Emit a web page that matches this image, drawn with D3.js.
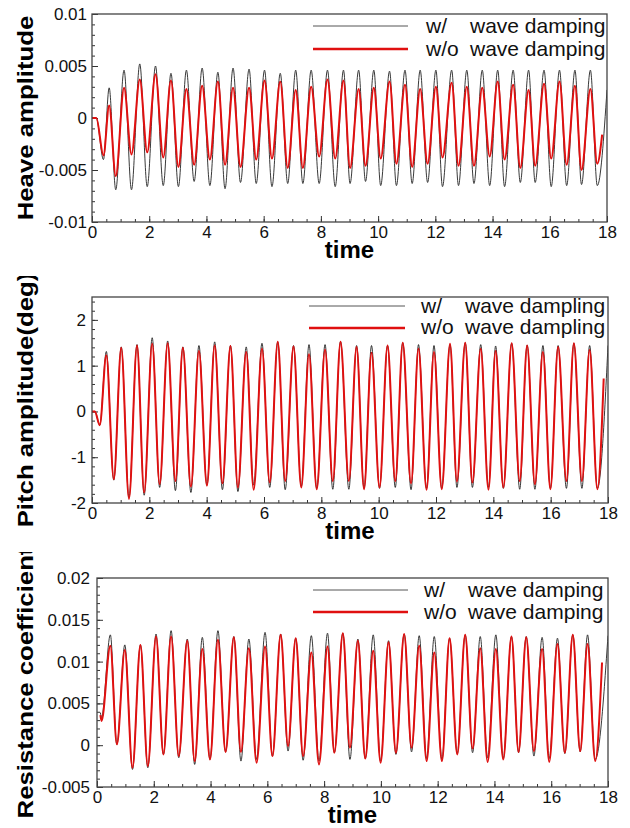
<!DOCTYPE html>
<html>
<head>
<meta charset="utf-8">
<script src="https://cdn.jsdelivr.net/npm/d3@7"></script>
<style>
  body { margin: 0; background: #fff; }
  svg { display: block; font-family: Arial, "Liberation Sans", sans-serif; }
</style>
</head>
<body>
<svg width="630" height="828"></svg>
<script>
// ---- data: times of peaks/troughs and the values there ----
const heaveTime = [0, 0.15, 0.4, 0.6, 0.83, 1.12, 1.38, 1.67, 1.93, 2.22, 2.49, 2.76, 3.02, 3.3, 3.57, 3.85, 4.12, 4.4, 4.65, 4.93,
  5.19, 5.49, 5.74, 6.03, 6.29, 6.58, 6.84, 7.12, 7.37, 7.66, 7.94, 8.23, 8.5, 8.79, 9.02, 9.32, 9.56, 9.85, 10.09, 10.4,
  10.64, 10.94, 11.19, 11.47, 11.73, 12.02, 12.25, 12.57, 12.81, 13.1, 13.35, 13.64, 13.9, 14.18, 14.42, 14.72, 14.97, 15.26, 15.49, 15.8,
  16.05, 16.34, 16.59, 16.88, 17.11, 17.42, 17.66];
const heaveWith = [0, 0, -0.004, 0.0029, -0.0069, 0.0046, -0.0069, 0.0052, -0.0066, 0.005, -0.0065, 0.0043, -0.0066, 0.0046, -0.0061, 0.0048, -0.0065, 0.0044, -0.0068, 0.0048,
  -0.0062, 0.0047, -0.0063, 0.0046, -0.0066, 0.0043, -0.0063, 0.0046, -0.0063, 0.0046, -0.0063, 0.0046, -0.0066, 0.0046, -0.0063, 0.0046, -0.0061, 0.0046, -0.0065, 0.0045,
  -0.0065, 0.0046, -0.0063, 0.0046, -0.0062, 0.0046, -0.0066, 0.0046, -0.0065, 0.0046, -0.0063, 0.0046, -0.0065, 0.0046, -0.0066, 0.0046, -0.0062, 0.0046, -0.0062, 0.0046,
  -0.0066, 0.0046, -0.0065, 0.0046, -0.0064, 0.0046, -0.0065];
const heaveWithout = [0, 0, -0.0036, 0.0012, -0.0056, 0.0029, -0.0035, 0.0037, -0.0033, 0.0042, -0.0038, 0.0036, -0.0047, 0.0028, -0.0045, 0.0031, -0.004, 0.0035, -0.0045, 0.0029,
  -0.0047, 0.0029, -0.004, 0.0036, -0.0039, 0.0035, -0.0048, 0.0027, -0.0048, 0.003, -0.0037, 0.0037, -0.0039, 0.0036, -0.0048, 0.0028, -0.0046, 0.0029, -0.0039, 0.0035,
  -0.0044, 0.0032, -0.0047, 0.0028, -0.0044, 0.003, -0.0038, 0.0034, -0.0046, 0.003, -0.0046, 0.0029, -0.0037, 0.0035, -0.004, 0.0032, -0.0048, 0.0027, -0.0046, 0.0033,
  -0.0039, 0.0035, -0.0045, 0.0031, -0.005, 0.0028, -0.0044];
const heaveEndWith = [18, 0.0027];
const heaveEndWithout = [17.83, -0.0016];

const pitchTime = [0, 0.1, 0.27, 0.5, 0.76, 1.02, 1.29, 1.57, 1.82, 2.1, 2.36, 2.64, 2.91, 3.17, 3.45, 3.73, 4.01, 4.28, 4.55, 4.83,
  5.09, 5.38, 5.64, 5.93, 6.2, 6.48, 6.74, 7.03, 7.3, 7.57, 7.84, 8.13, 8.4, 8.67, 8.96, 9.23, 9.49, 9.75, 10.03, 10.31,
  10.58, 10.84, 11.13, 11.39, 11.67, 11.93, 12.2, 12.49, 12.73, 13.02, 13.27, 13.56, 13.83, 14.08, 14.35, 14.64, 14.92, 15.18, 15.45, 15.73,
  15.99, 16.26, 16.55, 16.81, 17.09, 17.36, 17.63];
const pitchWith = [0, 0, -0.3, 1.31, -1.5, 1.41, -1.88, 1.46, -1.83, 1.61, -1.66, 1.54, -1.73, 1.41, -1.77, 1.44, -1.61, 1.52, -1.71, 1.44,
  -1.75, 1.41, -1.61, 1.49, -1.66, 1.52, -1.71, 1.44, -1.64, 1.46, -1.68, 1.46, -1.7, 1.53, -1.7, 1.44, -1.68, 1.44, -1.68, 1.44,
  -1.66, 1.5, -1.71, 1.46, -1.68, 1.44, -1.68, 1.46, -1.66, 1.5, -1.66, 1.46, -1.66, 1.43, -1.68, 1.49, -1.7, 1.45, -1.7, 1.44,
  -1.68, 1.44, -1.68, 1.49, -1.68, 1.44, -1.68];
const pitchWithout = [0, 0, -0.3, 1.23, -1.48, 1.39, -1.91, 1.44, -1.77, 1.48, -1.59, 1.49, -1.52, 1.39, -1.64, 1.32, -1.62, 1.44, -1.57, 1.43,
  -1.66, 1.3, -1.71, 1.37, -1.55, 1.52, -1.52, 1.42, -1.66, 1.25, -1.7, 1.35, -1.52, 1.52, -1.52, 1.41, -1.7, 1.28, -1.66, 1.44,
  -1.52, 1.5, -1.57, 1.37, -1.71, 1.3, -1.7, 1.48, -1.53, 1.5, -1.55, 1.37, -1.71, 1.32, -1.66, 1.49, -1.52, 1.44, -1.59, 1.3,
  -1.7, 1.41, -1.52, 1.49, -1.52, 1.34, -1.7];
const pitchEndWith = [18, 1.44];
const pitchEndWithout = [17.85, 0.72];

const dragTime = [0.12, 0.16, 0.47, 0.7, 0.98, 1.25, 1.53, 1.79, 2.08, 2.34, 2.61, 2.88, 3.18, 3.44, 3.71, 3.98, 4.26, 4.53, 4.82, 5.07,
  5.35, 5.62, 5.92, 6.18, 6.47, 6.73, 7.0, 7.26, 7.55, 7.82, 8.12, 8.36, 8.66, 8.91, 9.19, 9.45, 9.73, 9.99, 10.27, 10.53,
  10.82, 11.08, 11.35, 11.61, 11.88, 12.15, 12.42, 12.69, 12.97, 13.23, 13.5, 13.76, 14.05, 14.31, 14.6, 14.85, 15.12, 15.39, 15.68, 15.93,
  16.22, 16.48, 16.76, 17.02, 17.28, 17.55];
const dragWith = [0.0039, 0.0033, 0.0132, 0.0001, 0.012, -0.0029, 0.012, -0.0027, 0.0133, -0.0011, 0.0137, -0.0015, 0.0127, -0.0023, 0.0129, -0.0017, 0.0137, -0.0008, 0.013, -0.0019,
  0.0127, -0.0017, 0.0135, -0.0013, 0.0133, -0.0007, 0.0128, -0.0018, 0.0131, -0.0019, 0.0134, -0.0009, 0.0134, -0.0017, 0.0127, -0.0016, 0.0132, -0.0019, 0.0125, -0.0011,
  0.0133, -0.0008, 0.0131, -0.0016, 0.013, -0.0017, 0.0128, -0.001, 0.0132, -0.0009, 0.013, -0.0015, 0.0132, -0.0016, 0.013, -0.0009, 0.013, -0.0013, 0.0129, -0.0016,
  0.0128, -0.001, 0.0132, -0.0008, 0.0132, -0.0017];
const dragWithout = [0.0036, 0.0029, 0.0119, 0.0001, 0.0114, -0.0027, 0.012, -0.0025, 0.013, -0.0011, 0.013, -0.0013, 0.0125, -0.0019, 0.0115, -0.0017, 0.0126, -0.0008, 0.0129, -0.0008,
  0.0116, -0.0021, 0.0118, -0.0013, 0.0132, -0.0001, 0.0128, -0.0013, 0.0111, -0.0023, 0.0118, -0.0009, 0.0134, -0.0003, 0.0125, -0.0016, 0.0113, -0.0021, 0.0123, -0.0009,
  0.0133, -0.0003, 0.0119, -0.0019, 0.0111, -0.0019, 0.0128, -0.0011, 0.0132, -0.0004, 0.0116, -0.002, 0.0115, -0.0017, 0.013, -0.0008, 0.0129, -0.0007, 0.0115, -0.002,
  0.0121, -0.0009, 0.0132, -0.0007, 0.0121, -0.0019];
const dragEndWith = [18, 0.0131];
const dragEndWithout = [17.79, 0.0099];

const xTicks = [0, 2, 4, 6, 8, 10, 12, 14, 16, 18];
const heaveTicks = [-0.01, -0.005, 0, 0.005, 0.01];
const pitchTicks = [-2, -1, 0, 1, 2];
const dragTicks = [-0.005, 0, 0.005, 0.01, 0.015, 0.02];
const legendDamping = ["wave damping", "wave damping"];
const legendDampling = ["wave dampling", "wave dampling"];

const svg = d3.select("svg");
const RED = "#e01010";
const FONT = "Arial, 'Liberation Sans', sans-serif";

function series(time, vals, end) {
  const pts = d3.zip(time, vals);
  pts.push(end);
  return pts;
}

function drawPanel(p, i) {
  const clipId = "clip" + i;
  const plotClip = "plot" + i;
  const defs = svg.append("defs");
  defs.append("clipPath").attr("id", clipId)
    .append("rect").attr("x", 0).attr("y", p.band[0]).attr("width", 630).attr("height", p.band[1] - p.band[0]);
  defs.append("clipPath").attr("id", plotClip)
    .append("rect").attr("x", p.left).attr("y", p.top).attr("width", p.right - p.left).attr("height", p.bottom - p.top);

  const g = svg.append("g").attr("clip-path", `url(#${clipId})`);
  const x = d3.scaleLinear().domain([0, 18]).range([p.left, p.right]);
  const y = d3.scaleLinear().domain(p.yDomain).range([p.bottom, p.top]);

  // minor ticks
  g.append("g").attr("transform", `translate(0,${p.bottom})`)
    .call(d3.axisBottom(x).tickValues(d3.range(0, 18.001, 0.5)).tickSize(-3).tickFormat(""))
    .call(a => a.select(".domain").remove());
  g.append("g").attr("transform", `translate(${p.left},0)`)
    .call(d3.axisLeft(y).tickValues(d3.range(p.yDomain[0], p.yDomain[1] + p.minor / 2, p.minor)).tickSize(-3).tickFormat(""))
    .call(a => a.select(".domain").remove());

  // major ticks + labels
  const xa = g.append("g").attr("transform", `translate(0,${p.bottom})`)
    .call(d3.axisBottom(x).tickValues(xTicks).tickSize(-6).tickPadding(4).tickFormat(d3.format("d")));
  xa.select(".domain").remove();
  xa.selectAll("text").attr("font-size", 17).attr("fill", "#111").attr("font-family", FONT);

  const ya = g.append("g").attr("transform", `translate(${p.left},0)`)
    .call(d3.axisLeft(y).tickValues(p.yTicks).tickSize(-6).tickPadding(p.pad).tickFormat(d => String(+d.toFixed(4))));
  ya.select(".domain").remove();
  ya.selectAll("text").attr("font-size", 17).attr("fill", "#111").attr("font-family", FONT);
  g.selectAll(".tick line").attr("stroke", "#333").attr("stroke-width", 1);

  // curves
  const line = d3.line().x(d => x(d[0])).y(d => y(d[1])).curve(d3.curveMonotoneX);
  const plot = g.append("g").attr("clip-path", `url(#${plotClip})`);
  plot.append("path").datum(p.withData).attr("d", line)
    .attr("fill", "none").attr("stroke", "#222").attr("stroke-width", 0.9);
  plot.append("path").datum(p.withoutData).attr("d", line)
    .attr("fill", "none").attr("stroke", RED).attr("stroke-width", 2);

  // frame
  g.append("rect").attr("x", p.left).attr("y", p.top)
    .attr("width", p.right - p.left).attr("height", p.bottom - p.top)
    .attr("fill", "none").attr("stroke", "#444").attr("stroke-width", 1.3);

  // legend
  const lg = p.legend;
  g.append("line").attr("x1", lg.x1).attr("x2", lg.x2).attr("y1", p.top + lg.l1).attr("y2", p.top + lg.l1)
    .attr("stroke", "#555").attr("stroke-width", 1);
  g.append("line").attr("x1", lg.x1).attr("x2", lg.x2).attr("y1", p.top + lg.l2).attr("y2", p.top + lg.l2)
    .attr("stroke", RED).attr("stroke-width", 2.5);
  [["w/", p.legendText[0], lg.b1], ["w/o", p.legendText[1], lg.b2]].forEach(([a, b, yy]) => {
    g.append("text").attr("x", lg.t1).attr("y", p.top + yy).attr("font-size", 21).attr("fill", "#111").text(a);
    g.append("text").attr("x", lg.t2).attr("y", p.top + yy).attr("font-size", 21).attr("fill", "#111").text(b);
  });

  // axis titles
  g.append("text").attr("x", (p.left + p.right) / 2).attr("y", p.bottom + 36)
    .attr("text-anchor", "middle").attr("font-size", 24).attr("font-weight", "bold").attr("fill", "#000").text("time");
  g.append("text")
    .attr("transform", `translate(33,${(p.top + p.bottom) / 2}) rotate(-90) scale(1.12,1)`)
    .attr("text-anchor", "middle").attr("font-size", 23).attr("font-weight", "bold").attr("fill", "#000")
    .text(p.yTitle);
}

const panels = [
  {
    band: [0, 276], left: 92, right: 607, top: 14, bottom: 222, pad: 5,
    yDomain: [-0.01, 0.01], yTicks: heaveTicks, minor: 0.001, yTitle: "Heave amplitude",
    withData: series(heaveTime, heaveWith, heaveEndWith),
    withoutData: series(heaveTime, heaveWithout, heaveEndWithout),
    legendText: legendDamping,
    legend: { x1: 313, x2: 408, l1: 12, l2: 35, t1: 426, t2: 470, b1: 19, b2: 42 }
  },
  {
    band: [276, 552], left: 92, right: 608, top: 297, bottom: 503, pad: 6,
    yDomain: [-2, 2.5], yTicks: pitchTicks, minor: 0.2, yTitle: "Pitch amplitude(deg)",
    withData: series(pitchTime, pitchWith, pitchEndWith),
    withoutData: series(pitchTime, pitchWithout, pitchEndWithout),
    legendText: legendDampling,
    legend: { x1: 309, x2: 405, l1: 9, l2: 31, t1: 421, t2: 465, b1: 16, b2: 37 }
  },
  {
    band: [552, 828], left: 97, right: 608, top: 578, bottom: 787, pad: 7,
    yDomain: [-0.005, 0.02], yTicks: dragTicks, minor: 0.001, yTitle: "Resistance coefficient",
    withData: series(dragTime, dragWith, dragEndWith),
    withoutData: series(dragTime, dragWithout, dragEndWithout),
    legendText: legendDamping,
    legend: { x1: 313, x2: 408, l1: 12, l2: 34, t1: 424, t2: 468, b1: 19, b2: 41 }
  }
];

panels.forEach(drawPanel);
</script>
</body>
</html>
